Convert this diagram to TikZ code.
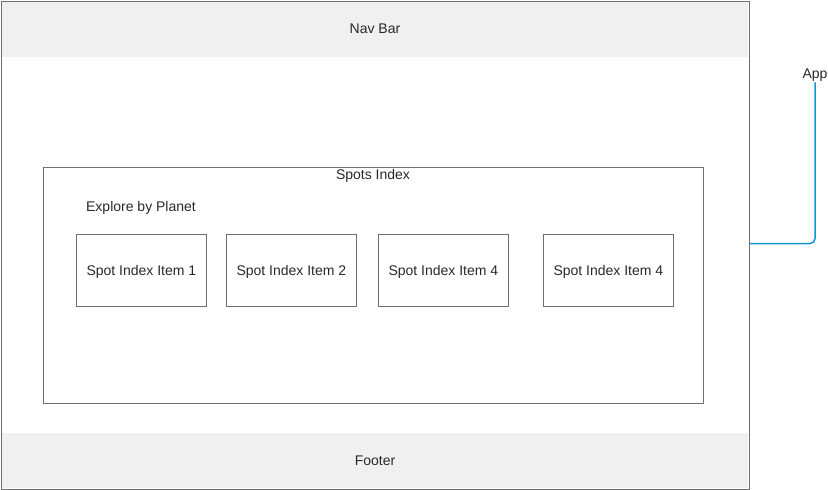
\documentclass[tikz,border=0pt]{standalone}
\usepackage{fontspec}
\setmainfont{Liberation Sans}
\usetikzlibrary{positioning}
\definecolor{box_gray}{RGB}{110,110,110}
\definecolor{bar_gray}{RGB}{240,240,240}
\definecolor{edge_blue}{RGB}{16,150,210}
\definecolor{text_gray}{RGB}{40,40,40}

\begin{document}
\begin{tikzpicture}[x=1pt,y=-1pt,font=\fontsize{14}{16}\selectfont,text=text_gray]
    \tikzstyle{frame}=[draw=box_gray, rectangle, anchor=north west, inner sep=0pt, line width=1pt]
    \tikzstyle{bar}=[fill=bar_gray, draw=none, rectangle, anchor=north west, inner sep=0pt, minimum width=746pt, minimum height=55pt]
    \tikzstyle{item}=[style=frame, minimum width=130pt, minimum height=72pt, line width=0.8pt]
    \tikzstyle{lbl}=[inner sep=1pt]
    \tikzstyle{conn}=[draw=edge_blue, line width=1.5pt, rounded corners=5pt]

    \useasboundingbox (0,0) rectangle (828,490);

    \node[frame] (app) at (1,1) [minimum width=748pt, minimum height=488pt] {};
    \node[bar] (nav) at (2,2) {};
    \node[bar] (foot) at (2,433) {};
    \node[lbl] (navl) at (375,29) {Nav Bar};
    \node[lbl] (footl) at (375,461) {Footer};

    \node[frame, line width=0.8pt] (spots) at (43,167) [minimum width=660pt, minimum height=236pt] {};
    \node[lbl] (spotsl) at (373,176) {Spots Index};
    \node[lbl] (explore) at (141,208) {Explore by Planet};

    \node[item] (i1) at (76,234) {};
    \node[item] (i2) at (226,234) {};
    \node[item] (i3) at (378,234) {};
    \node[item] (i4) at (543,234) {};
    \node[lbl] at ([yshift=-1pt]i1.center) {Spot Index Item 1};
    \node[lbl] at ([yshift=-1pt]i2.center) {Spot Index Item 2};
    \node[lbl] at ([yshift=-1pt]i3.center) {Spot Index Item 4};
    \node[lbl] at ([yshift=-1pt]i4.center) {Spot Index Item 4};

    \node[lbl] (appl) at (815,75) {App};
    \path[conn] ([yshift=2pt]app.east) -| (appl.south);
\end{tikzpicture}
\end{document}
